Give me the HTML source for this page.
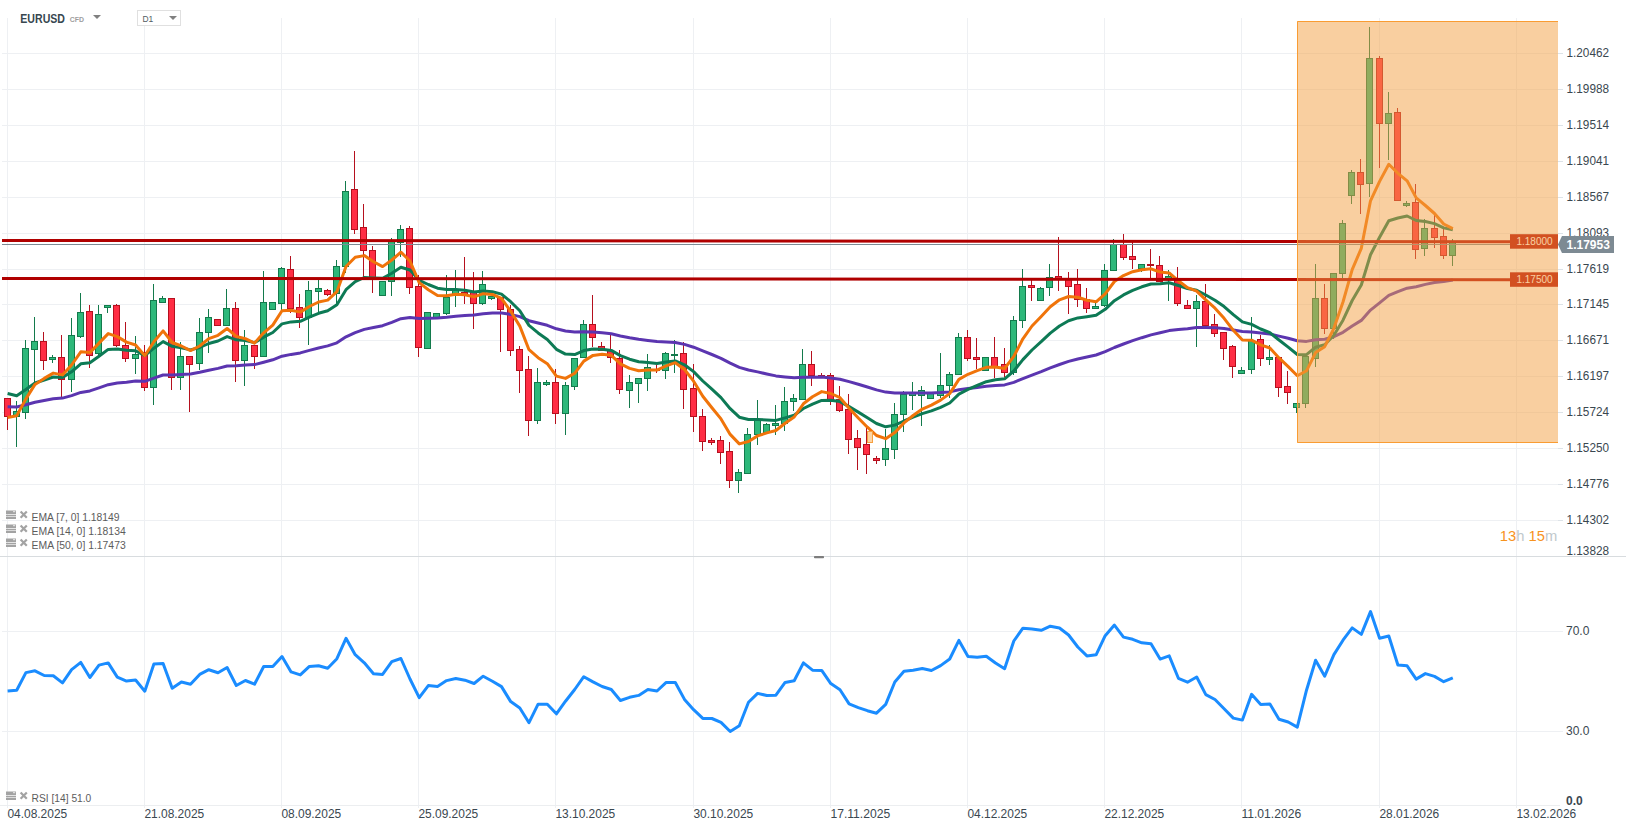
<!DOCTYPE html><html><head><meta charset="utf-8"><style>html,body{margin:0;padding:0;background:#fff;}body{width:1626px;height:831px;overflow:hidden;font-family:"Liberation Sans",sans-serif}svg text{font-family:"Liberation Sans",sans-serif}</style></head><body>
<svg width="1626" height="831" viewBox="0 0 1626 831">
<path d="M2 53.5H1558 M2 89.5H1558 M2 125.5H1558 M2 161.5H1558 M2 197.5H1558 M2 233.5H1558 M2 269.5H1558 M2 304.5H1558 M2 340.5H1558 M2 376.5H1558 M2 412.5H1558 M2 448.5H1558 M2 484.5H1558 M2 520.5H1558 M7.5 18V808 M144.5 18V808 M281.5 18V808 M418.5 18V808 M555.5 18V808 M693.5 18V808 M830.5 18V808 M967.5 18V808 M1104.5 18V808 M1241.5 18V808 M1379.5 18V808 M1516.5 18V808" stroke="#eef0f3" stroke-width="1" fill="none"/>
<path d="M2 631.5H1563M2 731.5H1563" stroke="#eef0f3" stroke-width="1" fill="none"/>
<path d="M1558 53.5H1563 M1558 89.5H1563 M1558 125.5H1563 M1558 161.5H1563 M1558 197.5H1563 M1558 233.5H1563 M1558 269.5H1563 M1558 304.5H1563 M1558 340.5H1563 M1558 376.5H1563 M1558 412.5H1563 M1558 448.5H1563 M1558 484.5H1563 M1558 520.5H1563" stroke="#dde3e8" stroke-width="1"/>
<path d="M16.5 401V447 M25.5 340V419 M34.5 317V384 M52.5 355V363 M71.5 318V392 M80.5 293V338 M98.5 305V355 M107.5 305V313 M135.5 336V374 M153.5 284V405 M162.5 296V302 M180.5 342V390 M199.5 318V370 M208.5 309V353 M226.5 289V326 M244.5 330V386 M263.5 271V356 M272.5 302V309 M281.5 267V310 M308.5 281V345 M318.5 280V312 M336.5 260V303 M345.5 181V273 M382.5 281V296 M391.5 238V296 M400.5 225V257 M427.5 312V348 M436.5 313V318 M446.5 275V315 M455.5 270V307 M482.5 271V305 M491.5 296V300 M537.5 368V424 M546.5 380V386 M565.5 382V435 M574.5 358V390 M583.5 320V358 M629.5 375V408 M638.5 378V403 M647.5 354V391 M665.5 352V379 M674.5 340V373 M738.5 469V493 M747.5 428V474 M757.5 400V445 M766.5 423V432 M775.5 405V435 M784.5 387V431 M793.5 394V411 M802.5 349V399 M885.5 429V466 M894.5 403V459 M903.5 391V432 M912.5 382V410 M921.5 386V426 M930.5 393V399 M940.5 353V398 M949.5 372V398 M958.5 333V375 M985.5 357V371 M1013.5 316V375 M1022.5 269V328 M1040.5 287V300 M1049.5 264V296 M1095.5 303V308 M1104.5 264V307 M1113.5 239V271 M1141.5 264V272 M1168.5 270V301 M1196.5 295V347 M1241.5 367V373 M1251.5 317V374 M1269.5 345V365 M1296.5 403V413 M1305.5 356V408 M1315.5 264V367 M1333.5 273V339 M1342.5 220V278 M1351.5 170V204 M1369.5 27V197 M1388.5 92V160 M1406.5 201V207 M1424.5 219V256 M1452.5 239V266" stroke="#137a4c" stroke-width="1"/>
<path d="M7.5 398V430 M43.5 332V370 M61.5 335V397 M89.5 305V368 M116.5 304V347 M125.5 322V362 M144.5 345V391 M171.5 298V390 M189.5 356V412 M217.5 319V326 M235.5 302V382 M254.5 345V369 M290.5 256V313 M299.5 294V328 M327.5 289V296 M354.5 151V234 M363.5 204V278 M372.5 246V293 M409.5 226V294 M418.5 275V357 M464.5 257V304 M473.5 272V329 M500.5 297V352 M510.5 305V356 M519.5 346V393 M528.5 356V436 M555.5 369V424 M592.5 295V347 M601.5 342V351 M610.5 334V363 M619.5 350V394 M656.5 365V373 M683.5 342V409 M693.5 364V432 M702.5 409V451 M711.5 438V445 M720.5 436V464 M729.5 442V488 M811.5 351V386 M821.5 373V376 M830.5 373V405 M839.5 386V412 M848.5 394V454 M857.5 430V470 M866.5 428V474 M876.5 456V464 M967.5 330V361 M976.5 338V369 M994.5 337V378 M1004.5 348V377 M1031.5 280V301 M1058.5 237V291 M1068.5 272V314 M1077.5 269V307 M1086.5 288V313 M1123.5 234V260 M1132.5 242V269 M1150.5 249V278 M1159.5 256V281 M1177.5 267V306 M1187.5 300V308 M1205.5 284V326 M1214.5 314V337 M1223.5 332V360 M1232.5 345V378 M1260.5 335V366 M1278.5 357V397 M1287.5 371V404 M1324.5 284V334 M1360.5 159V214 M1379.5 56V168 M1397.5 108V200 M1415.5 184V259 M1434.5 213V248 M1443.5 228V259" stroke="#b5101e" stroke-width="1"/>
<g fill="#2db87a" stroke="#137a4c" stroke-width="1"><rect x="13.5" y="411.5" width="6" height="5.0"/><rect x="22.5" y="348.5" width="6" height="64.0"/><rect x="31.5" y="341.5" width="6" height="8.0"/><rect x="49.5" y="357.5" width="6" height="2.0"/><rect x="68.5" y="335.5" width="6" height="44.0"/><rect x="77.5" y="312.5" width="6" height="24.0"/><rect x="95.5" y="314.5" width="6" height="39.0"/><rect x="104.5" y="305.5" width="6" height="2.0"/><rect x="132.5" y="354.5" width="6" height="4.0"/><rect x="150.5" y="300.5" width="6" height="87.0"/><rect x="159.5" y="298.5" width="6" height="4.0"/><rect x="177.5" y="356.5" width="6" height="21.0"/><rect x="196.5" y="332.5" width="6" height="31.0"/><rect x="205.5" y="317.5" width="6" height="15.0"/><rect x="223.5" y="308.5" width="6" height="17.0"/><rect x="241.5" y="345.5" width="6" height="15.0"/><rect x="260.5" y="302.5" width="6" height="54.0"/><rect x="269.5" y="302.5" width="6" height="7.0"/><rect x="278.5" y="268.5" width="6" height="35.0"/><rect x="305.5" y="290.5" width="6" height="27.0"/><rect x="315.5" y="288.5" width="6" height="3.0"/><rect x="333.5" y="266.5" width="6" height="27.0"/><rect x="342.5" y="191.5" width="6" height="75.0"/><rect x="379.5" y="281.5" width="6" height="14.0"/><rect x="388.5" y="240.5" width="6" height="41.0"/><rect x="397.5" y="229.5" width="6" height="13.0"/><rect x="424.5" y="312.5" width="6" height="36.0"/><rect x="433.5" y="313.5" width="6" height="4.0"/><rect x="443.5" y="297.5" width="6" height="16.0"/><rect x="452.5" y="290.5" width="6" height="5.0"/><rect x="479.5" y="284.5" width="6" height="19.0"/><rect x="488.5" y="296.5" width="6" height="2.0"/><rect x="534.5" y="382.5" width="6" height="38.0"/><rect x="543.5" y="382.5" width="6" height="2.0"/><rect x="562.5" y="385.5" width="6" height="28.0"/><rect x="571.5" y="358.5" width="6" height="28.0"/><rect x="580.5" y="324.5" width="6" height="33.0"/><rect x="626.5" y="382.5" width="6" height="8.0"/><rect x="635.5" y="378.5" width="6" height="5.0"/><rect x="644.5" y="367.5" width="6" height="11.0"/><rect x="662.5" y="353.5" width="6" height="17.0"/><rect x="671.5" y="354.5" width="6" height="1.0"/><rect x="735.5" y="472.5" width="6" height="8.0"/><rect x="744.5" y="434.5" width="6" height="39.0"/><rect x="754.5" y="419.5" width="6" height="15.0"/><rect x="763.5" y="424.5" width="6" height="8.0"/><rect x="772.5" y="423.5" width="6" height="2.0"/><rect x="781.5" y="401.5" width="6" height="22.0"/><rect x="790.5" y="398.5" width="6" height="3.0"/><rect x="799.5" y="364.5" width="6" height="35.0"/><rect x="882.5" y="448.5" width="6" height="11.0"/><rect x="891.5" y="414.5" width="6" height="35.0"/><rect x="900.5" y="394.5" width="6" height="20.0"/><rect x="909.5" y="393.5" width="6" height="2.0"/><rect x="918.5" y="390.5" width="6" height="5.0"/><rect x="927.5" y="393.5" width="6" height="5.0"/><rect x="937.5" y="385.5" width="6" height="10.0"/><rect x="946.5" y="374.5" width="6" height="11.0"/><rect x="955.5" y="337.5" width="6" height="37.0"/><rect x="982.5" y="357.5" width="6" height="13.0"/><rect x="1010.5" y="320.5" width="6" height="52.0"/><rect x="1019.5" y="286.5" width="6" height="34.0"/><rect x="1037.5" y="288.5" width="6" height="12.0"/><rect x="1046.5" y="277.5" width="6" height="10.0"/><rect x="1092.5" y="306.5" width="6" height="2.0"/><rect x="1101.5" y="270.5" width="6" height="35.0"/><rect x="1110.5" y="244.5" width="6" height="26.0"/><rect x="1138.5" y="264.5" width="6" height="4.0"/><rect x="1165.5" y="276.5" width="6" height="3.0"/><rect x="1193.5" y="301.5" width="6" height="7.0"/><rect x="1238.5" y="370.5" width="6" height="3.0"/><rect x="1248.5" y="340.5" width="6" height="29.0"/><rect x="1266.5" y="357.5" width="6" height="2.0"/><rect x="1293.5" y="403.5" width="6" height="4.0"/><rect x="1302.5" y="356.5" width="6" height="47.0"/><rect x="1312.5" y="298.5" width="6" height="60.0"/><rect x="1330.5" y="273.5" width="6" height="55.0"/><rect x="1339.5" y="223.5" width="6" height="50.0"/><rect x="1348.5" y="172.5" width="6" height="23.0"/><rect x="1366.5" y="58.5" width="6" height="125.0"/><rect x="1385.5" y="113.5" width="6" height="10.0"/><rect x="1403.5" y="203.5" width="6" height="2.0"/><rect x="1421.5" y="228.5" width="6" height="20.0"/><rect x="1449.5" y="242.5" width="6" height="13.0"/></g>
<g fill="#ff2d44" stroke="#b5101e" stroke-width="1"><rect x="4.5" y="398.5" width="6" height="18.0"/><rect x="40.5" y="341.5" width="6" height="19.0"/><rect x="58.5" y="357.5" width="6" height="22.0"/><rect x="86.5" y="311.5" width="6" height="44.0"/><rect x="113.5" y="305.5" width="6" height="40.0"/><rect x="122.5" y="345.5" width="6" height="13.0"/><rect x="141.5" y="352.5" width="6" height="35.0"/><rect x="168.5" y="298.5" width="6" height="79.0"/><rect x="186.5" y="356.5" width="6" height="8.0"/><rect x="214.5" y="319.5" width="6" height="6.0"/><rect x="232.5" y="308.5" width="6" height="52.0"/><rect x="251.5" y="345.5" width="6" height="11.0"/><rect x="287.5" y="269.5" width="6" height="39.0"/><rect x="296.5" y="307.5" width="6" height="10.0"/><rect x="324.5" y="290.5" width="6" height="4.0"/><rect x="351.5" y="189.5" width="6" height="40.0"/><rect x="360.5" y="227.5" width="6" height="23.0"/><rect x="369.5" y="250.5" width="6" height="29.0"/><rect x="406.5" y="228.5" width="6" height="59.0"/><rect x="415.5" y="286.5" width="6" height="61.0"/><rect x="461.5" y="292.5" width="6" height="3.0"/><rect x="470.5" y="291.5" width="6" height="12.0"/><rect x="497.5" y="297.5" width="6" height="12.0"/><rect x="507.5" y="309.5" width="6" height="41.0"/><rect x="516.5" y="349.5" width="6" height="21.0"/><rect x="525.5" y="369.5" width="6" height="51.0"/><rect x="552.5" y="382.5" width="6" height="31.0"/><rect x="589.5" y="324.5" width="6" height="13.0"/><rect x="598.5" y="346.5" width="6" height="4.0"/><rect x="607.5" y="350.5" width="6" height="7.0"/><rect x="616.5" y="358.5" width="6" height="31.0"/><rect x="653.5" y="369.5" width="6" height="1.0"/><rect x="680.5" y="353.5" width="6" height="36.0"/><rect x="690.5" y="388.5" width="6" height="28.0"/><rect x="699.5" y="416.5" width="6" height="25.0"/><rect x="708.5" y="440.5" width="6" height="2.0"/><rect x="717.5" y="440.5" width="6" height="12.0"/><rect x="726.5" y="451.5" width="6" height="29.0"/><rect x="808.5" y="364.5" width="6" height="11.0"/><rect x="818.5" y="375.5" width="6" height="1.0"/><rect x="827.5" y="375.5" width="6" height="24.0"/><rect x="836.5" y="399.5" width="6" height="11.0"/><rect x="845.5" y="409.5" width="6" height="30.0"/><rect x="854.5" y="438.5" width="6" height="9.0"/><rect x="863.5" y="444.5" width="6" height="10.0"/><rect x="873.5" y="458.5" width="6" height="2.0"/><rect x="964.5" y="337.5" width="6" height="21.0"/><rect x="973.5" y="357.5" width="6" height="2.0"/><rect x="991.5" y="357.5" width="6" height="9.0"/><rect x="1001.5" y="364.5" width="6" height="8.0"/><rect x="1028.5" y="285.5" width="6" height="2.0"/><rect x="1055.5" y="276.5" width="6" height="3.0"/><rect x="1065.5" y="279.5" width="6" height="7.0"/><rect x="1074.5" y="284.5" width="6" height="15.0"/><rect x="1083.5" y="299.5" width="6" height="9.0"/><rect x="1120.5" y="244.5" width="6" height="13.0"/><rect x="1129.5" y="256.5" width="6" height="3.0"/><rect x="1147.5" y="264.5" width="6" height="1.0"/><rect x="1156.5" y="265.5" width="6" height="16.0"/><rect x="1174.5" y="280.5" width="6" height="23.0"/><rect x="1184.5" y="305.5" width="6" height="3.0"/><rect x="1202.5" y="301.5" width="6" height="24.0"/><rect x="1211.5" y="324.5" width="6" height="9.0"/><rect x="1220.5" y="332.5" width="6" height="16.0"/><rect x="1229.5" y="346.5" width="6" height="20.0"/><rect x="1257.5" y="339.5" width="6" height="19.0"/><rect x="1275.5" y="357.5" width="6" height="30.0"/><rect x="1284.5" y="386.5" width="6" height="6.0"/><rect x="1321.5" y="298.5" width="6" height="30.0"/><rect x="1357.5" y="172.5" width="6" height="12.0"/><rect x="1376.5" y="58.5" width="6" height="65.0"/><rect x="1394.5" y="112.5" width="6" height="88.0"/><rect x="1412.5" y="202.5" width="6" height="47.0"/><rect x="1431.5" y="228.5" width="6" height="9.0"/><rect x="1440.5" y="236.5" width="6" height="19.0"/></g>
<polyline points="7.6,406.8 16.7,407.0 25.9,404.7 35.0,402.2 44.2,400.5 53.3,398.8 62.5,398.1 71.6,395.6 80.8,392.4 89.9,390.9 99.0,387.9 108.2,384.7 117.3,383.1 126.5,382.2 135.6,381.1 144.8,381.3 153.9,378.1 163.1,375.0 172.2,375.1 181.4,374.4 190.5,374.0 199.7,372.3 208.8,370.2 218.0,368.4 227.1,366.0 236.3,365.8 245.4,365.0 254.5,364.6 263.7,362.2 272.8,359.8 282.0,356.2 291.1,354.4 300.3,352.9 309.4,350.4 318.6,348.0 327.7,345.9 336.9,342.8 346.0,336.8 355.2,332.6 364.3,329.4 373.5,327.5 382.6,325.7 391.8,322.3 400.9,318.7 410.0,317.4 419.2,318.6 428.3,318.3 437.5,318.1 446.6,317.3 455.8,316.2 464.9,315.4 474.1,314.9 483.2,313.7 492.4,313.0 501.5,312.9 510.7,314.4 519.8,316.6 529.0,320.7 538.1,323.0 547.3,325.3 556.4,328.8 565.5,331.0 574.7,332.1 583.8,331.8 593.0,332.0 602.1,332.8 611.3,333.8 620.4,336.0 629.6,337.8 638.7,339.3 647.9,340.4 657.0,341.6 666.2,342.1 675.3,342.5 684.5,344.4 693.6,347.2 702.8,350.9 711.9,354.5 721.0,358.3 730.2,363.1 739.3,367.4 748.5,370.0 757.6,371.9 766.8,374.0 775.9,375.9 785.1,376.9 794.2,377.8 803.4,377.2 812.5,377.2 821.7,377.1 830.8,378.0 840.0,379.3 849.1,381.6 858.3,384.2 867.4,387.0 876.5,389.9 885.7,392.1 894.8,393.0 904.0,393.1 913.1,393.1 922.3,392.9 931.4,392.9 940.6,392.6 949.7,391.9 958.9,389.7 968.0,388.5 977.2,387.4 986.3,386.2 995.5,385.4 1004.6,384.9 1013.8,382.4 1022.9,378.6 1032.0,375.1 1041.2,371.6 1050.3,367.9 1059.5,364.5 1068.6,361.4 1077.8,359.0 1086.9,357.0 1096.1,355.0 1105.2,351.7 1114.4,347.5 1123.5,344.0 1132.7,340.7 1141.8,337.7 1151.0,334.9 1160.1,332.8 1169.2,330.6 1178.4,329.5 1187.5,328.7 1196.7,327.6 1205.8,327.5 1215.0,327.8 1224.1,328.6 1233.3,330.1 1242.4,331.6 1251.6,332.0 1260.7,333.0 1269.9,334.0 1279.0,336.1 1288.2,338.3 1297.3,340.8 1306.5,341.4 1315.6,339.7 1324.7,339.3 1333.9,336.7 1343.0,332.3 1352.2,326.0 1361.3,320.4 1370.5,310.1 1379.6,302.8 1388.8,295.4 1397.9,291.7 1407.1,288.2 1416.2,286.7 1425.4,284.4 1434.5,282.5 1443.7,281.5 1452.8,279.9" fill="none" stroke="#5b35b0" stroke-width="3" stroke-linejoin="round"/>
<polyline points="7.6,393.5 16.7,395.8 25.9,389.5 35.0,383.0 44.2,380.0 53.3,377.0 62.5,377.4 71.6,371.8 80.8,363.8 89.9,362.7 99.0,356.2 108.2,349.4 117.3,348.9 126.5,350.2 135.6,350.7 144.8,355.6 153.9,348.2 163.1,341.6 172.2,346.3 181.4,347.7 190.5,349.9 199.7,347.5 208.8,343.5 218.0,341.0 227.1,336.6 236.3,339.8 245.4,340.5 254.5,342.6 263.7,337.2 272.8,332.5 282.0,323.9 291.1,321.9 300.3,321.3 309.4,317.1 318.6,313.3 327.7,310.7 336.9,304.8 346.0,289.7 355.2,281.7 364.3,277.5 373.5,277.9 382.6,278.3 391.8,273.2 400.9,267.3 410.0,270.0 419.2,280.3 428.3,284.5 437.5,288.2 446.6,289.4 455.8,289.4 464.9,290.3 474.1,292.0 483.2,291.0 492.4,291.7 501.5,294.1 510.7,301.7 519.8,310.8 529.0,325.4 538.1,332.9 547.3,339.4 556.4,349.3 565.5,354.1 574.7,354.6 583.8,350.6 593.0,348.9 602.1,349.2 611.3,350.4 620.4,355.6 629.6,359.2 638.7,361.7 647.9,362.4 657.0,363.5 666.2,362.1 675.3,360.9 684.5,364.8 693.6,371.6 702.8,381.0 711.9,389.2 721.0,397.6 730.2,408.7 739.3,417.2 748.5,419.5 757.6,419.4 766.8,420.0 775.9,420.4 785.1,417.9 794.2,415.3 803.4,408.5 812.5,404.1 821.7,400.4 830.8,400.2 840.0,401.6 849.1,406.6 858.3,412.1 867.4,417.8 876.5,423.5 885.7,426.8 894.8,425.1 904.0,421.0 913.1,417.2 922.3,413.6 931.4,410.9 940.6,407.4 949.7,403.0 958.9,394.1 968.0,389.4 977.2,385.5 986.3,381.7 995.5,379.7 1004.6,378.8 1013.8,371.0 1022.9,359.6 1032.0,350.0 1041.2,341.7 1050.3,333.1 1059.5,326.0 1068.6,320.7 1077.8,317.9 1086.9,316.7 1096.1,315.3 1105.2,309.3 1114.4,300.7 1123.5,294.9 1132.7,290.3 1141.8,286.8 1151.0,284.0 1160.1,283.7 1169.2,282.7 1178.4,285.5 1187.5,288.6 1196.7,290.3 1205.8,295.0 1215.0,300.2 1224.1,306.6 1233.3,314.6 1242.4,321.9 1251.6,324.4 1260.7,329.0 1269.9,332.7 1279.0,340.0 1288.2,347.1 1297.3,354.5 1306.5,354.7 1315.6,347.2 1324.7,344.7 1333.9,335.2 1343.0,320.2 1352.2,300.5 1361.3,285.0 1370.5,254.8 1379.6,237.3 1388.8,220.7 1397.9,218.0 1407.1,216.0 1416.2,220.5 1425.4,221.5 1434.5,223.6 1443.7,227.9 1452.8,229.8" fill="none" stroke="#0d7a55" stroke-width="3" stroke-linejoin="round"/>
<polyline points="7.6,417.4 16.7,415.8 25.9,398.9 35.0,384.4 44.2,378.4 53.3,373.1 62.5,374.9 71.6,365.0 80.8,351.8 89.9,352.6 99.0,343.1 108.2,333.6 117.3,336.6 126.5,342.1 135.6,345.0 144.8,355.7 153.9,341.8 163.1,330.9 172.2,342.5 181.4,346.0 190.5,350.6 199.7,346.0 208.8,338.7 218.0,335.3 227.1,328.5 236.3,336.4 245.4,338.7 254.5,343.1 263.7,332.8 272.8,325.1 282.0,310.8 291.1,310.2 300.3,312.1 309.4,306.5 318.6,302.0 327.7,300.1 336.9,291.7 346.0,266.5 355.2,257.3 364.3,255.6 373.5,261.7 382.6,266.6 391.8,260.0 400.9,252.2 410.0,261.0 419.2,282.6 428.3,289.8 437.5,295.5 446.6,295.8 455.8,294.3 464.9,294.7 474.1,296.9 483.2,293.7 492.4,294.4 501.5,298.3 510.7,311.3 519.8,326.1 529.0,349.7 538.1,357.7 547.3,363.7 556.4,376.1 565.5,378.4 574.7,373.3 583.8,361.1 593.0,355.4 602.1,354.3 611.3,355.3 620.4,363.8 629.6,368.4 638.7,370.8 647.9,369.9 657.0,370.1 666.2,365.8 675.3,362.7 684.5,369.5 693.6,381.2 702.8,396.2 711.9,407.8 721.0,418.9 730.2,434.4 739.3,443.9 748.5,441.5 757.6,435.9 766.8,432.9 775.9,430.5 785.1,423.2 794.2,417.0 803.4,403.8 812.5,396.7 821.7,391.6 830.8,393.5 840.0,397.7 849.1,408.2 858.3,418.0 867.4,427.2 876.5,435.5 885.7,438.7 894.8,432.6 904.0,422.9 913.1,415.5 922.3,409.1 931.4,405.1 940.6,400.1 949.7,393.6 958.9,379.4 968.0,374.3 977.2,370.6 986.3,367.3 995.5,367.1 1004.6,368.5 1013.8,356.4 1022.9,338.8 1032.0,326.0 1041.2,316.5 1050.3,306.7 1059.5,299.8 1068.6,296.5 1077.8,297.3 1086.9,300.2 1096.1,301.8 1105.2,293.8 1114.4,281.5 1123.5,275.6 1132.7,271.7 1141.8,269.7 1151.0,268.8 1160.1,272.0 1169.2,273.0 1178.4,280.8 1187.5,287.7 1196.7,291.1 1205.8,299.8 1215.0,308.2 1224.1,318.3 1233.3,330.3 1242.4,340.1 1251.6,340.2 1260.7,344.8 1269.9,348.0 1279.0,357.9 1288.2,366.6 1297.3,375.7 1306.5,370.8 1315.6,352.6 1324.7,346.7 1333.9,328.3 1343.0,302.0 1352.2,269.6 1361.3,248.3 1370.5,200.8 1379.6,181.4 1388.8,164.3 1397.9,173.3 1407.1,180.8 1416.2,197.9 1425.4,205.5 1434.5,213.5 1443.7,224.0 1452.8,228.6" fill="none" stroke="#f0740a" stroke-width="3" stroke-linejoin="round"/>
<path d="M2 240.4L1558 241.7M2 278.4L1558 279.7" stroke="#b00000" stroke-width="3"/>
<path d="M2 244.5H1558" stroke="#7d8a93" stroke-width="1"/>
<rect x="1510" y="234.2" width="48" height="14.5" fill="#b00000"/>
<rect x="1510" y="272.3" width="48" height="14.5" fill="#b00000"/>
<g fill="#ffffff" font-size="10" text-anchor="middle"><text x="1534.5" y="245.2">1.18000</text><text x="1534.5" y="283.3">1.17500</text></g>
<rect x="1297" y="21" width="261" height="422" fill="#f39f41" fill-opacity="0.5"/>
<path d="M1558 21.5H1297.5V442.5H1558" fill="none" stroke="#f99c33" stroke-width="1"/>
<rect x="1296.9" y="35" width="2" height="405" fill="none"/>
<rect x="867.5" y="431.5" width="5" height="11" fill="#fcd4a4" stroke="#f7a040" stroke-width="1"/>
<g fill="#3a4750" font-size="12">
<text x="1566.5" y="57.2" textLength="42.5" lengthAdjust="spacingAndGlyphs">1.20462</text>
<text x="1566.5" y="93.2" textLength="42.5" lengthAdjust="spacingAndGlyphs">1.19988</text>
<text x="1566.5" y="129.2" textLength="42.5" lengthAdjust="spacingAndGlyphs">1.19514</text>
<text x="1566.5" y="165.2" textLength="42.5" lengthAdjust="spacingAndGlyphs">1.19041</text>
<text x="1566.5" y="201.2" textLength="42.5" lengthAdjust="spacingAndGlyphs">1.18567</text>
<text x="1566.5" y="237.2" textLength="42.5" lengthAdjust="spacingAndGlyphs">1.18093</text>
<text x="1566.5" y="273.2" textLength="42.5" lengthAdjust="spacingAndGlyphs">1.17619</text>
<text x="1566.5" y="308.2" textLength="42.5" lengthAdjust="spacingAndGlyphs">1.17145</text>
<text x="1566.5" y="344.2" textLength="42.5" lengthAdjust="spacingAndGlyphs">1.16671</text>
<text x="1566.5" y="380.2" textLength="42.5" lengthAdjust="spacingAndGlyphs">1.16197</text>
<text x="1566.5" y="416.2" textLength="42.5" lengthAdjust="spacingAndGlyphs">1.15724</text>
<text x="1566.5" y="452.2" textLength="42.5" lengthAdjust="spacingAndGlyphs">1.15250</text>
<text x="1566.5" y="488.2" textLength="42.5" lengthAdjust="spacingAndGlyphs">1.14776</text>
<text x="1566.5" y="524.2" textLength="42.5" lengthAdjust="spacingAndGlyphs">1.14302</text>
<text x="1566.5" y="554.8" textLength="42.5" lengthAdjust="spacingAndGlyphs">1.13828</text>
</g>
<polygon points="1558,244.4 1562,236 1614,236 1614,253 1562,253" fill="#7d8a93"/>
<text x="1566.5" y="249" fill="#fff" font-size="12" font-weight="bold">1.17953</text>
<text x="1499.8" y="541.1" font-size="14" textLength="57.4" lengthAdjust="spacingAndGlyphs"><tspan fill="#f7931e">13</tspan><tspan fill="#c0c8cc">h </tspan><tspan fill="#f7931e">15</tspan><tspan fill="#c0c8cc">m</tspan></text>
<path d="M0 556.5H1626" stroke="#d8dcdf" stroke-width="1"/>
<rect x="814" y="556" width="10" height="2.2" rx="0.8" fill="#7d7d7d"/>
<path d="M0 805.5H1560" stroke="#eceef0" stroke-width="1"/>
<text x="20.3" y="23" font-size="12.4" font-weight="bold" fill="#37474f" textLength="44.7" lengthAdjust="spacingAndGlyphs">EURUSD</text>
<text x="69.7" y="22.1" font-size="7.6" font-weight="bold" fill="#9e9e9e" textLength="14.3" lengthAdjust="spacingAndGlyphs">CFD</text>
<polygon points="93,15 101,15 97,19" fill="#808080"/>
<rect x="137.5" y="10.5" width="43" height="15" fill="#fff" stroke="#e0e0e0" stroke-width="1"/>
<text x="142.5" y="22.2" font-size="9.8" fill="#525c63" textLength="10.8" lengthAdjust="spacingAndGlyphs">D1</text>
<polygon points="169,16 177,16 173,20" fill="#808080"/>
<g fill="#a3a3a3"><rect x="6" y="510.5" width="10" height="3.6"/><rect x="6" y="514.8" width="10" height="1.6"/><rect x="6" y="517" width="10" height="2"/></g><path d="M13 511.7H15.2M13 514.1" stroke="#fff" stroke-width="0.8"/><path d="M20.6 511.4L26.8 517.8M26.8 511.4L20.6 517.8" stroke="#a3a3a3" stroke-width="2.2"/><text x="31.6" y="521" font-size="10" fill="#5c5c5c" textLength="88" lengthAdjust="spacingAndGlyphs">EMA [7, 0] 1.18149</text>
<g fill="#a3a3a3"><rect x="6" y="524.5" width="10" height="3.6"/><rect x="6" y="528.8" width="10" height="1.6"/><rect x="6" y="531" width="10" height="2"/></g><path d="M13 525.7H15.2M13 528.1" stroke="#fff" stroke-width="0.8"/><path d="M20.6 525.4L26.8 531.8M26.8 525.4L20.6 531.8" stroke="#a3a3a3" stroke-width="2.2"/><text x="31.6" y="535" font-size="10" fill="#5c5c5c" textLength="94.1" lengthAdjust="spacingAndGlyphs">EMA [14, 0] 1.18134</text>
<g fill="#a3a3a3"><rect x="6" y="538.5" width="10" height="3.6"/><rect x="6" y="542.8" width="10" height="1.6"/><rect x="6" y="545" width="10" height="2"/></g><path d="M13 539.7H15.2M13 542.1" stroke="#fff" stroke-width="0.8"/><path d="M20.6 539.4L26.8 545.8M26.8 539.4L20.6 545.8" stroke="#a3a3a3" stroke-width="2.2"/><text x="31.6" y="549" font-size="10" fill="#5c5c5c" textLength="94.1" lengthAdjust="spacingAndGlyphs">EMA [50, 0] 1.17473</text>
<g fill="#a3a3a3"><rect x="6" y="791.5" width="10" height="3.6"/><rect x="6" y="795.8" width="10" height="1.6"/><rect x="6" y="798" width="10" height="2"/></g><path d="M13 792.7H15.2M13 795.1" stroke="#fff" stroke-width="0.8"/><path d="M20.6 792.4L26.8 798.8M26.8 792.4L20.6 798.8" stroke="#a3a3a3" stroke-width="2.2"/><text x="31.6" y="802" font-size="10" fill="#5c5c5c" textLength="59.7" lengthAdjust="spacingAndGlyphs">RSI [14] 51.0</text>
<g fill="#3a4750" font-size="12"><text x="1566" y="635">70.0</text><text x="1566" y="735">30.0</text><text x="1566" y="805" font-weight="bold">0.0</text></g>
<g fill="#3a4750" font-size="12">
<text x="7.4" y="818" textLength="59.8" lengthAdjust="spacingAndGlyphs">04.08.2025</text>
<text x="144.4" y="818" textLength="59.8" lengthAdjust="spacingAndGlyphs">21.08.2025</text>
<text x="281.4" y="818" textLength="59.8" lengthAdjust="spacingAndGlyphs">08.09.2025</text>
<text x="418.4" y="818" textLength="59.8" lengthAdjust="spacingAndGlyphs">25.09.2025</text>
<text x="555.4" y="818" textLength="59.8" lengthAdjust="spacingAndGlyphs">13.10.2025</text>
<text x="693.4" y="818" textLength="59.8" lengthAdjust="spacingAndGlyphs">30.10.2025</text>
<text x="830.4" y="818" textLength="59.8" lengthAdjust="spacingAndGlyphs">17.11.2025</text>
<text x="967.4" y="818" textLength="59.8" lengthAdjust="spacingAndGlyphs">04.12.2025</text>
<text x="1104.4" y="818" textLength="59.8" lengthAdjust="spacingAndGlyphs">22.12.2025</text>
<text x="1241.4" y="818" textLength="59.8" lengthAdjust="spacingAndGlyphs">11.01.2026</text>
<text x="1379.4" y="818" textLength="59.8" lengthAdjust="spacingAndGlyphs">28.01.2026</text>
<text x="1516.4" y="818" textLength="59.8" lengthAdjust="spacingAndGlyphs">13.02.2026</text>
</g>
<polyline points="7.6,691.0 16.7,690.3 25.9,672.6 35.0,670.8 44.2,675.5 53.3,675.8 62.5,682.9 71.6,669.6 80.8,662.4 89.9,677.5 99.0,665.1 108.2,662.9 117.3,677.1 126.5,681.1 135.6,680.0 144.8,691.2 153.9,664.0 163.1,663.5 172.2,688.3 181.4,682.0 190.5,684.3 199.7,674.4 208.8,669.7 218.0,672.7 227.1,667.5 236.3,685.5 245.4,680.5 254.5,684.2 263.7,666.5 272.8,666.5 282.0,656.5 291.1,671.9 300.3,674.9 309.4,666.4 318.6,665.8 327.7,668.2 336.9,658.7 346.0,638.3 355.2,654.7 364.3,662.8 373.5,673.8 382.6,674.4 391.8,661.7 400.9,658.5 410.0,679.0 419.2,697.6 428.3,685.6 437.5,686.4 446.6,680.6 455.8,678.5 464.9,680.2 474.1,683.5 483.2,676.2 492.4,681.2 501.5,686.6 510.7,701.6 519.8,708.0 529.0,722.7 538.1,704.2 547.3,704.2 556.4,713.8 565.5,701.2 574.7,689.5 583.8,676.7 593.0,681.9 602.1,686.5 611.3,689.5 620.4,700.5 629.6,697.3 638.7,695.4 647.9,689.6 657.0,691.0 666.2,682.4 675.3,682.5 684.5,699.4 693.6,709.7 702.8,718.4 711.9,718.5 721.0,722.4 730.2,731.5 739.3,725.8 748.5,702.3 757.6,693.4 766.8,695.5 775.9,695.2 785.1,682.4 794.2,680.8 803.4,662.9 812.5,670.2 821.7,670.4 830.8,683.6 840.0,689.8 849.1,703.9 858.3,707.6 867.4,710.7 876.5,713.2 885.7,704.4 894.8,682.0 904.0,671.2 913.1,670.2 922.3,668.5 931.4,670.5 940.6,665.6 949.7,659.0 958.9,640.4 968.0,656.5 977.2,657.2 986.3,656.2 995.5,663.0 1004.6,668.7 1013.8,641.0 1022.9,628.2 1032.0,628.9 1041.2,630.3 1050.3,626.2 1059.5,628.0 1068.6,635.0 1077.8,647.0 1086.9,655.9 1096.1,654.8 1105.2,635.7 1114.4,625.1 1123.5,637.1 1132.7,639.3 1141.8,642.8 1151.0,643.8 1160.1,659.1 1169.2,655.9 1178.4,678.3 1187.5,682.2 1196.7,677.0 1205.8,694.6 1215.0,699.5 1224.1,708.7 1233.3,718.1 1242.4,720.1 1251.6,694.3 1260.7,704.4 1269.9,703.9 1279.0,719.2 1288.2,722.0 1297.3,727.1 1306.5,690.2 1315.6,660.3 1324.7,676.2 1333.9,654.6 1343.0,640.2 1352.2,627.9 1361.3,634.4 1370.5,611.6 1379.6,638.2 1388.8,636.0 1397.9,665.0 1407.1,665.8 1416.2,679.1 1425.4,673.6 1434.5,676.4 1443.7,681.7 1452.8,677.9" fill="none" stroke="#1a8cff" stroke-width="3" stroke-linejoin="round"/>
</svg></body></html>
